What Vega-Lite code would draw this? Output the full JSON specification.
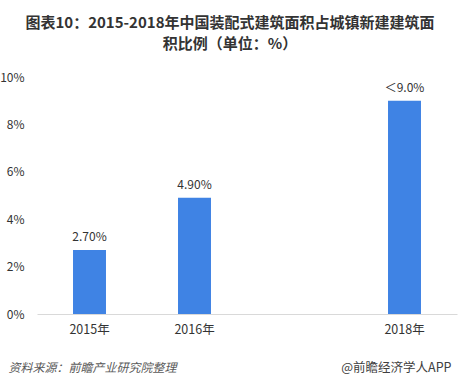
{
  "$schema": "https://vega.github.io/schema/vega-lite/v6.json",
  "width": 420,
  "height": 237,
  "autosize": {"type": "none"},
  "padding": {"left": 37, "top": 77, "right": 3, "bottom": 71},
  "background": "white",
  "config": {"view": {"stroke": null}, "font": "Noto Sans CJK SC"},
  "title": {
    "text": ["图表10：2015-2018年中国装配式建筑面积占城镇新建建筑面", "积比例（单位：%）"],
    "anchor": "middle",
    "dx": -17,
    "offset": 19,
    "fontSize": 15,
    "fontWeight": "bold",
    "color": "#333333",
    "lineHeight": 21,
    "font": "Noto Sans CJK SC"
  },
  "data": {
    "values": [
      {"year": "2015年", "value": 2.7, "label": "2.70%"},
      {"year": "2016年", "value": 4.9, "label": "4.90%"},
      {"year": "2018年", "value": 9.0, "label": "＜9.0%"}
    ]
  },
  "encoding": {
    "x": {
      "field": "year",
      "type": "nominal",
      "sort": null,
      "scale": {"domain": ["2015年", "2016年", "2017年", "2018年"], "paddingInner": 0.686, "paddingOuter": 0.343},
      "axis": {
        "title": "资料来源：前瞻产业研究院整理",
        "titleAnchor": "start",
        "titleAlign": "left",
        "titleX": -29,
        "titleY": 57,
        "titleBaseline": "alphabetic",
        "titleFontStyle": "italic",
        "titleFontWeight": "normal",
        "titleFontSize": 12,
        "titleColor": "#595959",
        "labelAngle": 0,
        "labelExpr": "datum.value == '2017年' ? '' : datum.value",
        "labelFontSize": 12.5,
        "labelColor": "#333333",
        "labelPadding": 9,
        "ticks": false,
        "domainColor": "#d9d9d9",
        "domainWidth": 1
      }
    },
    "y": {
      "field": "value",
      "type": "quantitative",
      "scale": {"domain": [0, 10]},
      "axis": {
        "title": "@前瞻经济学人APP",
        "titleAngle": 0,
        "titleAlign": "right",
        "titleBaseline": "alphabetic",
        "titleX": 414,
        "titleY": 294,
        "titleFontWeight": "normal",
        "titleFontSize": 12.5,
        "titleColor": "#404040",
        "values": [0, 2, 4, 6, 8, 10],
        "labelExpr": "datum.value + '%'",
        "labelFontSize": 12,
        "labelColor": "#333333",
        "labelPadding": 13,
        "ticks": false,
        "domain": false,
        "grid": false
      }
    }
  },
  "layer": [
    {"mark": {"type": "bar", "color": "#3F83E4"}},
    {
      "mark": {"type": "text", "dy": -13, "fontSize": 12, "color": "#333333"},
      "encoding": {"text": {"field": "label"}}
    }
  ]
}
